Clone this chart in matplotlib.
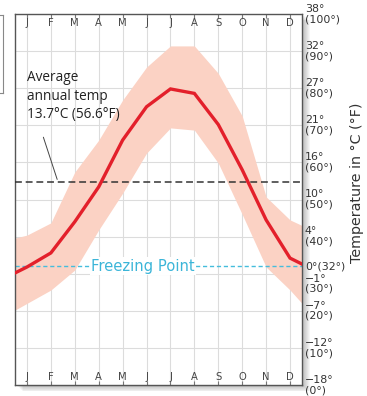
import matplotlib
matplotlib.use("Agg")
import matplotlib.pyplot as plt
from matplotlib.patches import Rectangle
from matplotlib.lines import Line2D
import matplotlib.transforms as mtransforms

# ---------------- data (°F) ----------------
months = ['J', 'F', 'M', 'A', 'M', 'J', 'J', 'A', 'S', 'O', 'N', 'D']
# positions: left edge, 12 months, right edge
xpos = [-0.5, 0, 1, 2, 3, 4, 5, 6, 7, 8, 9, 10, 11, 11.5]
avg_temp = [30.2, 31.8, 35.6, 44.0, 53.4, 66.0, 75.0, 79.8, 78.6, 70.2, 58.0, 44.5, 34.2, 32.6]
upper = [39.6, 40.4, 43.7, 57.4, 66.0, 76.8, 85.7, 91.4, 91.4, 84.0, 72.5, 50.7, 44.5, 43.0]
lower = [20.2, 22.0, 25.6, 31.0, 41.8, 51.7, 62.5, 69.3, 68.7, 59.8, 46.0, 31.8, 25.6, 22.0]
annual_avg_line = 54.7
freezing_f = 32
f_ticks = [100, 90, 80, 70, 60, 50, 40, 30, 20, 10, 0]
c_ticks = ['38°', '32°', '27°', '21°', '16°', '10°', '4°', '−1°', '−7°', '−12°', '−18°']

W, H = 367, 396
fig = plt.figure(figsize=(W / 100, H / 100), dpi=100)
L, R, T, B = 15, 302, 14, 385
ax = fig.add_axes([L / W, 1 - B / H, (R - L) / W, (B - T) / H])
ax.set_xlim(-0.5, 11.5)
ax.set_ylim(0, 100)

# shadow behind the plot box
for i in range(1, 9):
    fig.add_artist(Rectangle(((L + i) / W, 1 - (B + i * 0.8) / H), (R - L) / W, (B - T) / H,
                             transform=fig.transFigure, facecolor='black', alpha=0.035,
                             edgecolor='none', zorder=-10))

# grid
for f in f_ticks:
    ax.axhline(f, color='#dcdcdc', lw=0.8, zorder=0)
for i in range(12):
    ax.axvline(i, color='#dcdcdc', lw=0.8, zorder=0)

# band and line
ax.fill_between(xpos, lower, upper, color='#fbd2c4', lw=0, zorder=1)
ax.plot(xpos, avg_temp, color='#e3202b', lw=2.4, zorder=4, solid_joinstyle='miter')

# average dashed line
ax.axhline(annual_avg_line, color='#333333', lw=1.1, ls=(0, (4.5, 2.5)), zorder=3)
# freezing line
ax.axhline(freezing_f, color='#45bddc', lw=1.0, ls=(0, (3, 2)), zorder=2)
ax.text(4.85, freezing_f, 'Freezing Point', color='#3bb5d8', fontsize=10.6,
        ha='center', va='center', zorder=3,
        bbox=dict(facecolor='white', edgecolor='none', pad=1.0))

# annotation text
ax.text(0.0, 84.8, 'Average\nannual temp\n13.7°C (56.6°F)', fontsize=9.8,
        family='Open Sans', color='#222222', ha='left', va='top', linespacing=1.3, zorder=5)
ax.annotate('', xy=(1.3, annual_avg_line), xytext=(0.65, 67.5),
            arrowprops=dict(arrowstyle='-', color='#444444', lw=0.7))

# month labels inside top and bottom
for i, m in enumerate(months):
    ax.text(i, 97.5, m, fontsize=7.2, color='#444444', ha='center', va='center')
    ax.text(i, 2.2, m, fontsize=7.2, color='#444444', ha='center', va='center')

ax.set_xticks(range(12))
ax.set_yticks([])
ax.tick_params(axis='x', direction='in', length=3, color='#777777', top=True, bottom=True,
               labelbottom=False, labeltop=False)
for s in ax.spines.values():
    s.set_color('#555555')
    s.set_linewidth(1.0)

# right-side labels
tr = mtransforms.blended_transform_factory(ax.transAxes, ax.transData)
fs = 7.9
for f, c in zip(f_ticks, c_ticks):
    if f == 30:
        off = mtransforms.offset_copy(tr, fig=fig, x=0, y=-10, units='dots')
        ax.text(1.01, f, f'{c}\n({f}°)', transform=off, fontsize=fs, color='#333333',
                ha='left', va='center', linespacing=1.05, clip_on=False)
    else:
        ax.text(1.01, f, f'{c}\n({f}°)', transform=tr, fontsize=fs, color='#333333',
                ha='left', va='center', linespacing=1.05, clip_on=False)
ax.text(1.01, freezing_f, '0°(32°)', transform=tr, fontsize=fs, color='#333333',
        ha='left', va='center', clip_on=False)

ax.text(1.19, 54.4, 'Temperature in °C (°F)', transform=tr, rotation=90, fontsize=10.3,
        color='#333333', ha='center', va='center', clip_on=False)

# partial box at left edge
fig.add_artist(Line2D([3 / W, 3 / W], [1 - 15 / H, 1 - 93 / H], color='#888888', lw=0.8))
fig.add_artist(Line2D([0, 3 / W], [1 - 93 / H, 1 - 93 / H], color='#888888', lw=0.8))
fig.add_artist(Line2D([0, 3 / W], [1 - 15 / H, 1 - 15 / H], color='#888888', lw=0.8))

fig.savefig('out.png', dpi=100)
